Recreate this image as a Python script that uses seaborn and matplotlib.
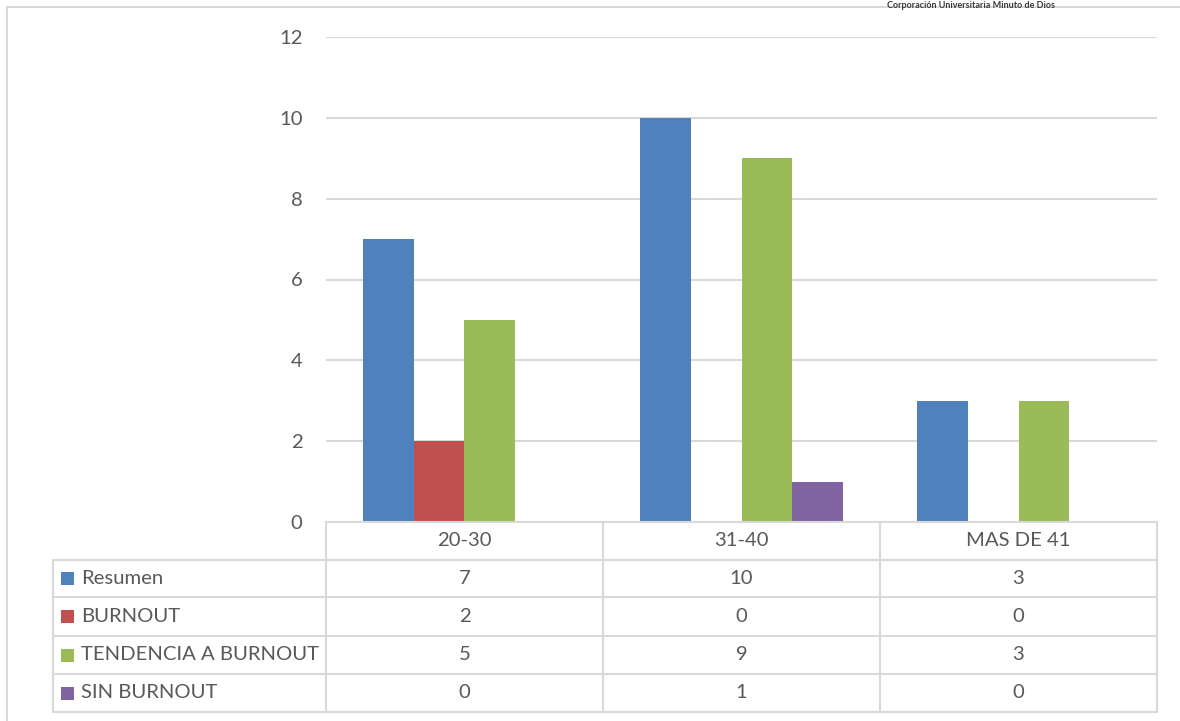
import matplotlib
matplotlib.use("Agg")
import matplotlib.pyplot as plt
import seaborn as sns
import pandas as pd

# Data
categories = ["20-30", "31-40", "MAS DE 41"]
series = ["Resumen", "BURNOUT", "TENDENCIA A BURNOUT", "SIN BURNOUT"]
resumen = [7, 10, 3]
burnout = [2, 0, 0]
tendencia = [5, 9, 3]
sin_burnout = [0, 1, 0]
y_ticks = [0, 2, 4, 6, 8, 10, 12]

colors = ["#4F81BD", "#C0504D", "#9BBB59", "#8064A2"]
text_color = "#595959"
grid_color = "#D9D9D9"
fs = 14.6

values = [resumen, burnout, tendencia, sin_burnout]
df = pd.DataFrame(
    [(c, s, v) for s, vals in zip(series, values) for c, v in zip(categories, vals)],
    columns=["grupo", "serie", "valor"],
)

sns.set_theme(style="white")
plt.rcParams["font.family"] = ["Lato", "DejaVu Sans"]

W, H = 1180, 721
fig = plt.figure(figsize=(W / 100, H / 100), dpi=100)

def fx(px):
    return px / W

def fy(py):
    return 1 - py / H

# plot area
x0, x1 = 326, 1157
y_top, y_base = 37, 522
ax = fig.add_axes([fx(x0), fy(y_base), fx(x1) - fx(x0), fy(y_top) - fy(y_base)])
sns.barplot(data=df, x="grupo", y="valor", hue="serie", hue_order=series,
            palette=colors, width=0.73, linewidth=0, saturation=1,
            legend=False, ax=ax, errorbar=None)
ax.set_xlim(-0.5, len(categories) - 0.5)
ax.set_ylim(0, 12)
ax.set_yticks(y_ticks)
ax.set_yticklabels([str(t) for t in y_ticks], color=text_color, fontsize=fs)
ax.tick_params(axis="y", length=0, pad=17)
ax.set_xticks([])
ax.set_xlabel("")
ax.set_ylabel("")
for sp in ["top", "right", "left"]:
    ax.spines[sp].set_visible(False)
ax.spines["bottom"].set_color(grid_color)
ax.spines["bottom"].set_linewidth(1.5)
ax.yaxis.grid(True, color=grid_color, linewidth=1.5)
ax.set_axisbelow(True)

# data table under the plot
tab = fig.add_axes([0, 0, 1, 1], facecolor="none")
tab.set_xlim(0, W)
tab.set_ylim(H, 0)
tab.axis("off")

col_edges = [x0 + (x1 - x0) * i / len(categories) for i in range(len(categories) + 1)]
label_left = 53
row_edges = [522, 560, 597, 636, 674, 712]
lw = 1.5

# header row
for xe in col_edges:
    tab.plot([xe, xe], [row_edges[0], row_edges[-1]], color=grid_color, lw=lw)
for i, c in enumerate(categories):
    xc = (col_edges[i] + col_edges[i + 1]) / 2
    tab.text(xc, (row_edges[0] + row_edges[1]) / 2, c, ha="center", va="center",
             color=text_color, fontsize=fs)

# horizontal row lines
for ye in row_edges[1:]:
    tab.plot([label_left, x1], [ye, ye], color=grid_color, lw=lw)
tab.plot([label_left, label_left], [row_edges[1], row_edges[-1]], color=grid_color, lw=lw)

for r, (s, vals, col) in enumerate(zip(series, values, colors)):
    yc = (row_edges[r + 1] + row_edges[r + 2]) / 2
    tab.add_patch(plt.Rectangle((61, yc - 6.5), 13, 13, color=col, lw=0))
    tab.text(81, yc, s, ha="left", va="center", color=text_color, fontsize=fs)
    for i, v in enumerate(vals):
        xc = (col_edges[i] + col_edges[i + 1]) / 2
        tab.text(xc, yc, str(v), ha="center", va="center", color=text_color, fontsize=fs)

# outer frame
tab.plot([7, 7], [7, H], color=grid_color, lw=1.5)
tab.plot([7, W], [7, 7], color=grid_color, lw=1.5)

# page header
tab.text(971, 0.5, "Corporación Universitaria Minuto de Dios", ha="center", va="top",
         color="#3a3a3a", fontsize=6.5, fontweight="bold")

fig.savefig("out.png", dpi=100, facecolor="white")
